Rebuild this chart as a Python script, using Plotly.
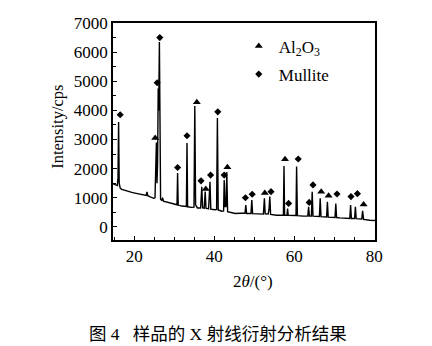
import plotly.graph_objects as go

# XRD pattern (2theta in degrees, intensity in cps)
two_theta = [14.7, 15.0, 15.4, 15.8, 15.95, 16.1, 16.25, 16.5, 16.9, 17.5, 18.2, 19.0, 19.4, 20.2, 21.0,
             21.9, 22.6, 23.0, 23.2, 23.4, 24.0, 24.5, 24.9, 25.2, 25.35, 25.55, 25.7, 25.85, 26.0, 26.12,
             26.3, 26.45, 26.6, 26.9, 27.1, 27.3, 28.0, 29.4, 30.3, 30.7, 30.85, 31.0, 31.9, 32.8, 33.05,
             33.2, 33.35, 34.4, 34.95, 35.15, 35.35, 35.8, 36.6, 36.9, 37.1, 37.5, 37.75, 37.95, 38.6, 38.95,
             39.15, 40.2, 40.6, 40.8, 41.0, 41.9, 42.35, 42.5, 42.7, 42.95, 43.15, 43.35, 44.3, 45.25, 46.5,
             47.7, 47.9, 48.1, 49.2, 49.4, 49.6, 50.5, 51.4, 52.3, 52.55, 52.75, 53.5, 53.7, 53.9, 54.1,
             55.6, 56.8, 57.3, 57.45, 57.6, 58.2, 58.35, 58.5, 59.5, 60.45, 60.6, 60.8, 62.25, 63.4, 63.6,
             63.8, 64.3, 64.5, 64.7, 65.5, 66.3, 66.5, 66.7, 68.1, 68.3, 68.5, 70.2, 70.4, 70.6, 71.4,
             73.0, 73.9, 74.1, 74.3, 75.1, 75.3, 75.5, 76.9, 77.1, 77.35, 78.9, 80.2]
intensity = [1480, 1460, 1440, 1420, 1700, 3600, 1500, 1330, 1290, 1260, 1230, 1200, 1185, 1160, 1140,
             1115, 1090, 1080, 1200, 1070, 1030, 1000, 980, 1000, 1600, 2900, 1500, 2200, 4750, 4000,
             6350, 1800, 950, 900, 1000, 880, 850, 805, 770, 760, 1850, 750, 715, 700, 700,
             2880, 690, 670, 680, 4150, 760, 650, 650, 1380, 660, 640, 1210, 640, 620, 1550,
             610, 590, 600, 3740, 580, 540, 550, 1610, 700, 700, 1880, 520, 480, 460, 470,
             470, 750, 460, 460, 920, 455, 450, 450, 440, 980, 450, 440, 600, 1040, 430,
             400, 400, 400, 2090, 400, 400, 630, 395, 390, 390, 2070, 385, 370, 370, 690,
             370, 370, 1210, 370, 360, 355, 980, 350, 340, 860, 335, 320, 805, 320, 310,
             300, 290, 750, 290, 290, 690, 285, 270, 550, 260, 230, 220]

# Phase markers
al2o3_x = [25.25, 35.65, 37.9, 43.3, 52.65, 57.7, 66.75, 68.6, 77.35]
al2o3_y = [3050, 4280, 1300, 2045, 1165, 2320, 1210, 1070, 770]
mullite_x = [16.5, 25.75, 26.4, 30.85, 33.2, 36.7, 39.1, 40.9, 42.5, 47.8, 49.5, 54.2, 58.6, 61.0,
             63.75, 64.7, 70.7, 74.2, 75.8]
mullite_y = [3850, 4950, 6500, 2040, 3130, 1580, 1780, 3950, 1780, 1000, 1120, 1210, 805, 2330,
             840, 1440, 1130, 1040, 1140]

x_ticks = [20, 40, 60, 80]
y_ticks = [0, 1000, 2000, 3000, 4000, 5000, 6000, 7000]

SERIF = "Liberation Serif, Times New Roman, serif"
CAPFONT = "Liberation Serif, Noto Sans CJK SC, serif"

fig = go.Figure()
fig.add_trace(go.Scatter(x=two_theta, y=intensity, mode="lines",
                         line=dict(color="black", width=1.4), showlegend=False, hoverinfo="skip"))
fig.add_trace(go.Scatter(x=al2o3_x, y=al2o3_y, mode="markers", name="Al<sub>2</sub>O<sub>3</sub>",
                         legendgroup="a",
                         marker=dict(symbol="triangle-up", size=7, color="black")))
fig.add_trace(go.Scatter(x=mullite_x, y=mullite_y, mode="markers", name="Mullite",
                         legendgroup="m",
                         marker=dict(symbol="diamond", size=5.5, color="black")))

axis_common = dict(showline=True, linecolor="black", linewidth=1.5, mirror=True,
                   ticks="inside", ticklen=4, tickwidth=1.2, tickcolor="black",
                   showgrid=False, zeroline=False,
                   tickfont=dict(family=SERIF, size=17, color="black"))

fig.update_xaxes(range=[14.7, 80.2], tickvals=x_ticks, ticktext=[str(v) for v in x_ticks],
                 minor=dict(dtick=5, tick0=0, ticks="inside", ticklen=3, tickwidth=1.2, tickcolor="black"),
                 **axis_common)
fig.update_yaxes(range=[-450, 7000], tickvals=y_ticks, ticktext=[str(v) for v in y_ticks],
                 minor=dict(dtick=500, tick0=0, ticks="inside", ticklen=3, tickwidth=1.2, tickcolor="black"),
                 **axis_common)

fig.update_layout(
    width=432, height=346,
    margin=dict(l=113, r=57, t=23, b=106),
    paper_bgcolor="white", plot_bgcolor="white",
    legend=dict(x=0.48, y=0.975, xanchor="left", yanchor="top",
                bgcolor="rgba(0,0,0,0)", font=dict(family=SERIF, size=17, color="black"),
                traceorder="grouped", tracegroupgap=3, itemwidth=30),
    annotations=[
        dict(text="Intensity/cps", xref="paper", yref="paper", x=-0.215, y=0.52,
             textangle=-90, showarrow=False, xanchor="center", yanchor="middle",
             font=dict(family=SERIF, size=16.5, color="black")),
        dict(text="2<i>θ</i>/(°)", xref="paper", yref="paper", x=0.535, y=-0.192,
             showarrow=False, xanchor="center", yanchor="middle",
             font=dict(family=SERIF, size=17, color="black")),
        dict(text="图 4   样品的 X 射线衍射分析结果", xref="paper", yref="paper", x=0.4, y=-0.435,
             showarrow=False, xanchor="center", yanchor="middle",
             font=dict(family=CAPFONT, size=17.5, color="black")),
    ],
)

fig.write_html("out.html")
